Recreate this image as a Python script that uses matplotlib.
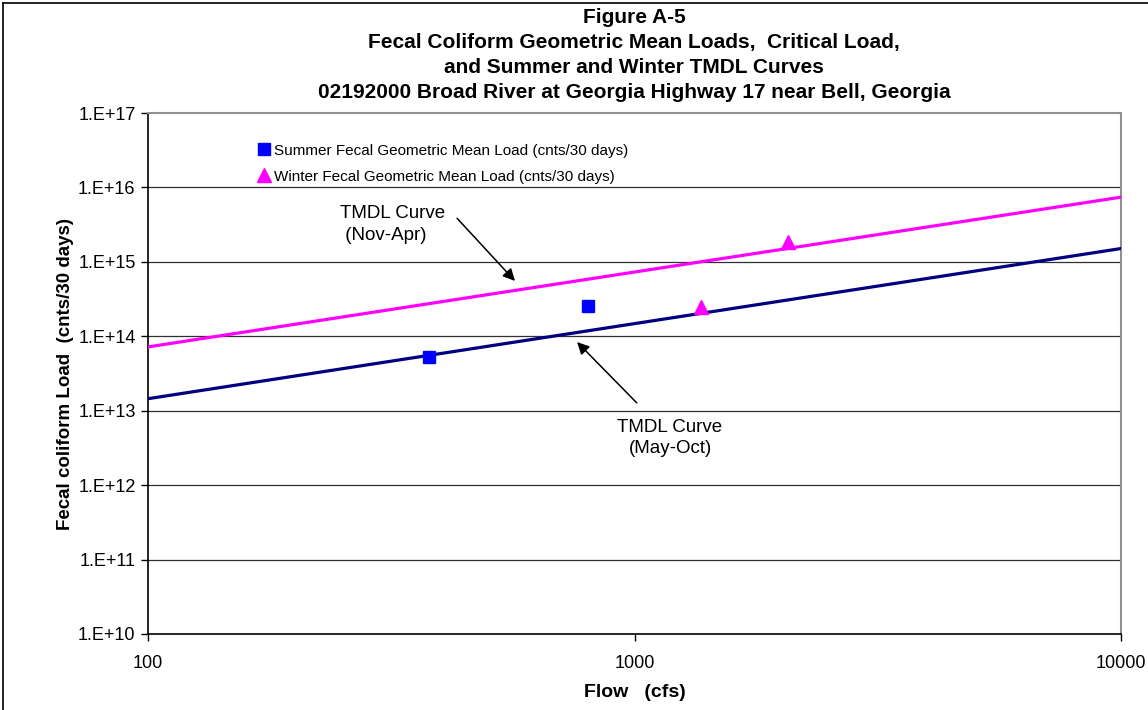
import numpy as np
import matplotlib
matplotlib.use('Agg')
from matplotlib import pyplot as plt
from matplotlib.ticker import FuncFormatter, FixedLocator, NullLocator
from matplotlib.lines import Line2D

plt.rcParams['font.family'] = ['Liberation Sans', 'DejaVu Sans']

# ---------------------------- data ----------------------------
tmdl_flow = [100, 10000]                 # cfs, ends of the TMDL curves
summer_tmdl = [1.45e13, 1.51e15]         # May-Oct curve
winter_tmdl = [7.2e13, 7.4e15]           # Nov-Apr curve

summer_flow = [378, 802]
summer_load = [5.3e13, 2.55e14]
winter_flow = [1371, 2068]
winter_load = [2.45e14, 1.85e15]

x_ticks = [100, 1000, 10000]
y_ticks = [1e10, 1e11, 1e12, 1e13, 1e14, 1e15, 1e16, 1e17]

title = ('Figure A-5\n'
         'Fecal Coliform Geometric Mean Loads,  Critical Load,\n'
         'and Summer and Winter TMDL Curves\n'
         '02192000 Broad River at Georgia Highway 17 near Bell, Georgia')
# ---------------------------------------------------------------

fig = plt.figure(figsize=(11.48, 7.1), dpi=100)
ax = fig.add_axes([148/1148, 1 - 634/710, 973/1148, 521/710])

# outer frame (left + top only visible)
fig.add_artist(Line2D([3/1148, 3/1148], [0, 1 - 3/710], color='black', lw=1.2))
fig.add_artist(Line2D([3/1148, 1], [1 - 3/710, 1 - 3/710], color='black', lw=1.2))

ax.set_xscale('log')
ax.set_yscale('log')
ax.set_xlim(100, 10000)
ax.set_ylim(1e10, 1e17)

for y in y_ticks[1:-1]:
    ax.axhline(y, color='#303030', lw=0.9, zorder=1)

ax.plot(tmdl_flow, winter_tmdl, color='#FF00FF', lw=2.3, zorder=3)
ax.plot(tmdl_flow, summer_tmdl, color='#000080', lw=2.3, zorder=3)

ax.plot(summer_flow, summer_load, 's', color='#0000FF', ms=9, ls='none', zorder=4,
        label='Summer Fecal Geometric Mean Load (cnts/30 days)')
ax.plot(winter_flow, winter_load, '^', color='#FF00FF', ms=10, ls='none', zorder=4,
        label='Winter Fecal Geometric Mean Load (cnts/30 days)')

leg = ax.legend(loc='upper left', bbox_to_anchor=(0.107, 0.953), frameon=False,
                fontsize=11, handlelength=0.7, handletextpad=0.35, labelspacing=0.78,
                borderaxespad=0)

# annotations
ax.annotate('', xy=(573, 5.2e14), xytext=(428, 4.1e15),
            arrowprops=dict(arrowstyle='-|>', color='black', lw=1.1, mutation_scale=18))
ax.text(248, 3.2e15, 'TMDL Curve\n (Nov-Apr)', fontsize=13.5, ha='left', va='center',
        linespacing=1.35)
ax.annotate('', xy=(755, 8.9e13), xytext=(1020, 1.2e13),
            arrowprops=dict(arrowstyle='-|>', color='black', lw=1.1, mutation_scale=18))
ax.text(1183, 4.3e12, 'TMDL Curve\n(May-Oct)', fontsize=13.5, ha='center', va='center',
        linespacing=1.35)

# axes styling
ax.xaxis.set_major_locator(FixedLocator(x_ticks))
ax.xaxis.set_minor_locator(NullLocator())
ax.yaxis.set_major_locator(FixedLocator(y_ticks))
ax.yaxis.set_minor_locator(NullLocator())
ax.xaxis.set_major_formatter(FuncFormatter(lambda v, p: f'{int(round(v))}'))
ax.yaxis.set_major_formatter(FuncFormatter(lambda v, p: f'1.E+{int(round(np.log10(v))):02d}'))
ax.tick_params(axis='both', direction='out', length=5, width=1, labelsize=13, pad=4)
ax.tick_params(axis='x', pad=10)

for s in ['left', 'bottom']:
    ax.spines[s].set_color('black')
    ax.spines[s].set_linewidth(1.2)
for s in ['top', 'right']:
    ax.spines[s].set_color('#909090')
    ax.spines[s].set_linewidth(1.5)

ax.set_xlabel('Flow   (cfs)', fontsize=14, fontweight='bold', labelpad=9)
ax.set_ylabel('Fecal coliform Load  (cnts/30 days)', fontsize=13.5, fontweight='bold', labelpad=3)

fig.text(634/1148, 1 - 8/710, title, ha='center', va='top', fontsize=15,
         fontweight='bold', linespacing=1.41)

fig.savefig('out.png', dpi=100)
